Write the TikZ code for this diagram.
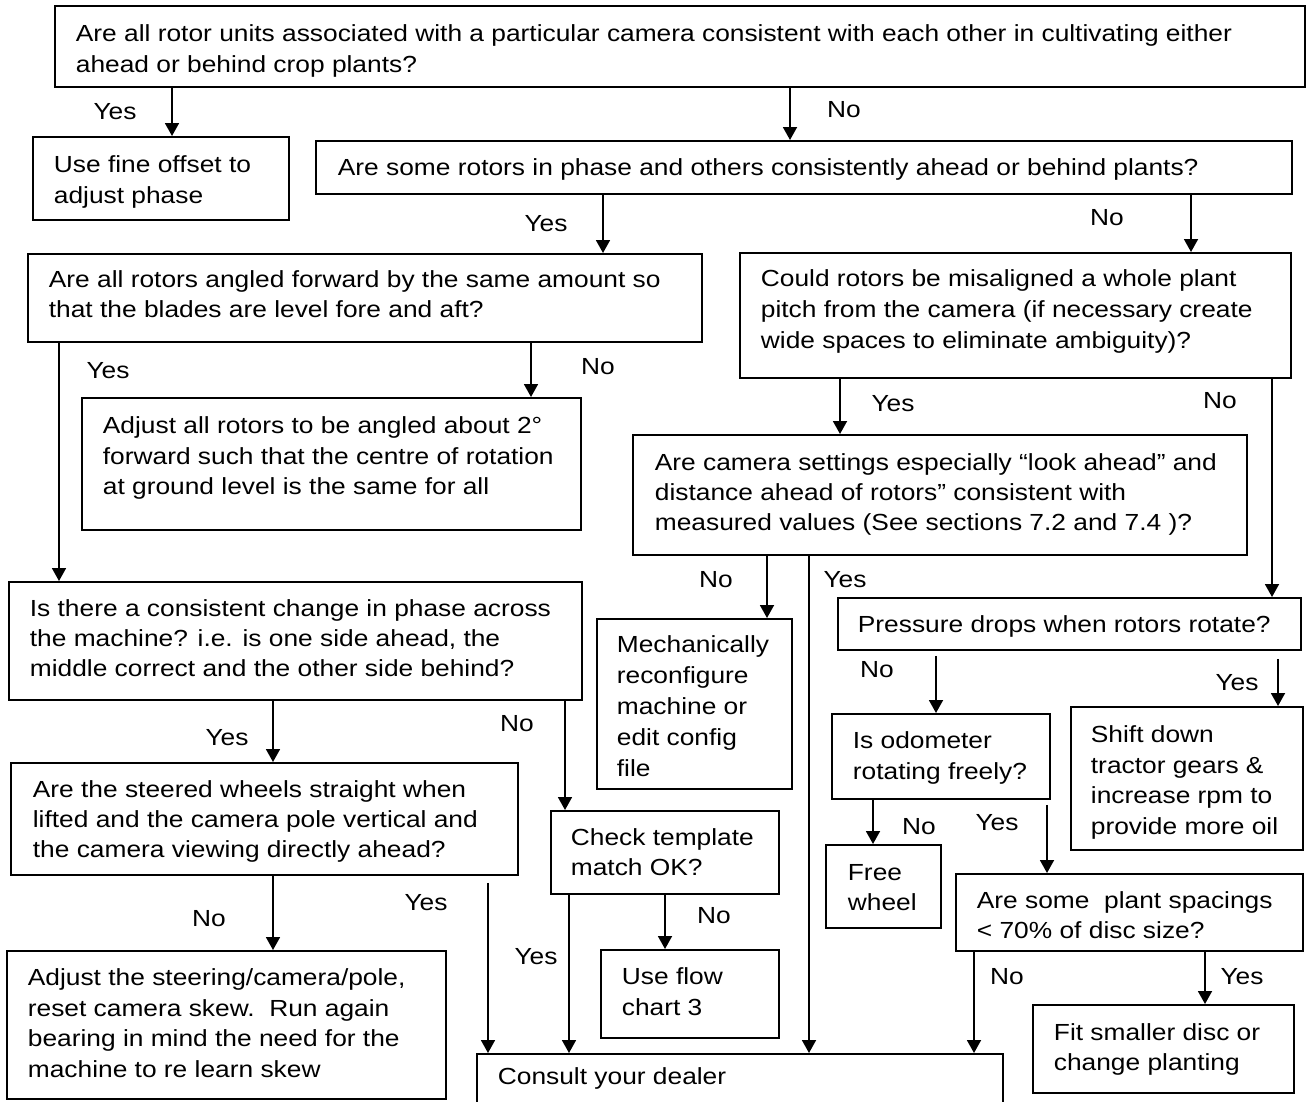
\documentclass[tikz,border=0pt]{standalone}
\usepackage{fontspec}
\setmainfont{Liberation Sans}[FakeStretch=1.13]
\usetikzlibrary{arrows.meta,calc}
% name, x1, y1, x2, y2, text x, first baseline y, line skip, text
\newcommand\flowbox[9]{%
  \node[boxst, anchor=north west] (#1) at (#2,-#3)
  {\parbox[c][\dimexpr #5pt-#3pt\relax][t]{\dimexpr #4pt-#2pt\relax}{%
    \raggedright\leftskip=\dimexpr #6pt-#2pt\relax
    \rightskip=0pt minus 300pt\relax
    \baselineskip=#8pt\relax
    \rule{0pt}{\dimexpr #7pt-#3pt\relax}#9}};}
\tikzset{
  boxst/.style={draw, line width=1.8pt, inner sep=0pt, fill=white,
    font=\fontsize{23.3}{30.5}\selectfont},
  arr/.style={line width=1.8pt, -{Triangle[length=13pt,width=14pt]}},
  lbl/.style={inner sep=0pt, font=\fontsize{23.3}{28}\selectfont}
}
\begin{document}
\begin{tikzpicture}[x=1pt,y=1pt]
\useasboundingbox (0,0) rectangle (1306,-1101);
\fill[white] (0,0) rectangle (1306,-1101);
\clip (0,0) rectangle (1306,-1101);

\flowbox{A}{54}{5}{1304}{86}{75}{41}{31}{Are all rotor units associated with a particular camera consistent with each other in cultivating either\\ ahead or behind crop plants?}
\flowbox{B}{32}{136}{288}{219}{53}{172}{31}{Use fine offset to\\ adjust phase}
\flowbox{C}{315}{140}{1291}{193}{337}{175}{30}{Are some rotors in phase and others consistently ahead or behind plants?}
\flowbox{D}{27}{253}{701}{341}{48}{287}{30}{Are all rotors angled forward by the same amount so\\ that the blades are level fore and aft?}
\flowbox{E}{739}{252}{1290}{377}{760}{286}{31}{Could rotors be misaligned a whole plant\\ pitch from the camera (if necessary create\\ wide spaces to eliminate ambiguity)?}
\flowbox{G}{81}{397}{580}{529}{102}{433}{30.5}{Adjust all rotors to be angled about 2°\\ forward such that the centre of rotation\\ at ground level is the same for all}
\flowbox{H}{632}{434}{1246}{554}{654}{470}{30}{Are camera settings especially “look ahead” and\\ distance ahead of rotors” consistent with\\ measured values (See sections 7.2 and 7.4 )?}
\flowbox{F}{8}{581}{581}{699}{29}{616}{30}{Is there a consistent change in phase across\\ the machine? i.e. is one side ahead, the\\ middle correct and the other side behind?}
\flowbox{I}{596}{618}{791}{788}{616}{652}{30.8}{Mechanically\\ reconfigure\\ machine or\\ edit config\\ file}
\flowbox{J}{837}{597}{1300}{649}{857}{632}{30}{Pressure drops when rotors rotate?}
\flowbox{K}{831}{713}{1049}{798}{852}{748}{31}{Is odometer\\ rotating freely?}
\flowbox{L}{1070}{706}{1302}{849}{1090}{742}{30.5}{Shift down\\ tractor gears \&\\ increase rpm to\\ provide more oil}
\flowbox{M}{10}{762}{517}{874}{32}{797}{30}{Are the steered wheels straight when\\ lifted and the camera pole vertical and\\ the camera viewing directly ahead?}
\flowbox{N}{550}{810}{778}{893}{570}{845}{30}{Check template\\ match OK?}
\flowbox{O}{825}{844}{940}{927}{847}{880}{30}{Free\\ wheel}
\flowbox{P}{955}{873}{1302}{950}{976}{908}{30}{Are some\ \ plant spacings\\ < 70\% of disc size?}
\flowbox{R}{600}{949}{778}{1037}{621}{984}{31}{Use flow\\ chart 3}
\flowbox{Q}{6}{950}{445}{1098}{27}{985}{30.5}{Adjust the steering/camera/pole,\\ reset camera skew.\ \ Run again\\ bearing in mind the need for the\\ machine to re learn skew}
\flowbox{S}{1032}{1004}{1293}{1092}{1053}{1040}{30}{Fit smaller disc or\\ change planting}
\flowbox{T}{476}{1053}{1002}{1130}{497}{1084}{30}{Consult your dealer}

% connectors
\draw[arr] (172,0 |- A.south) -- (172,0 |- B.north);
\draw[arr] (790,0 |- A.south) -- (790,0 |- C.north);
\draw[arr] (603,0 |- C.south) -- (603,0 |- D.north);
\draw[arr] (1191,0 |- C.south) -- (1191,0 |- E.north);
\draw[arr] (59,0 |- D.south) -- (59,0 |- F.north);
\draw[arr] (531,0 |- D.south) -- (531,0 |- G.north);
\draw[arr] (840,0 |- E.south) -- (840,0 |- H.north);
\draw[arr] (1272,0 |- E.south) -- (1272,0 |- J.north);
\draw[arr] (767,0 |- H.south) -- (767,0 |- I.north);
\draw[arr] (809,0 |- H.south) -- (809,0 |- T.north);
\draw[arr] (273,0 |- F.south) -- (273,0 |- M.north);
\draw[arr] (565,0 |- F.south) -- (565,0 |- N.north);
\draw[arr] ($(936,0 |- J.south)+(0,-5)$) -- (936,0 |- K.north);
\draw[arr] ($(1278,0 |- J.south)+(0,-8)$) -- (1278,0 |- L.north);
\draw[arr] (873,0 |- K.south) -- (873,0 |- O.north);
\draw[arr] ($(1047,0 |- K.south)+(0,-5)$) -- (1047,0 |- P.north);
\draw[arr] (273,0 |- M.south) -- (273,0 |- Q.north);
\draw[arr] ($(488,0 |- M.south)+(0,-7)$) -- (488,0 |- T.north);
\draw[arr] (569,0 |- N.south) -- (569,0 |- T.north);
\draw[arr] (665,0 |- N.south) -- (665,0 |- R.north);
\draw[arr] (974,0 |- P.south) -- (974,0 |- T.north);
\draw[arr] (1205,0 |- P.south) -- (1205,0 |- S.north);

% labels
\node[lbl] (y1) at (115,-112) {Yes};
\node[lbl] (n1) at (844,-110) {No};
\node[lbl] (y2) at (546,-224) {Yes};
\node[lbl] (n2) at (1107,-218) {No};
\node[lbl] (y3) at (108,-371) {Yes};
\node[lbl] (n3) at (598,-367) {No};
\node[lbl] (y4) at (893,-404) {Yes};
\node[lbl] (n4) at (1220,-401) {No};
\node[lbl] (n5) at (716,-580) {No};
\node[lbl] (y5) at (845,-580) {Yes};
\node[lbl] (y6) at (227,-738) {Yes};
\node[lbl] (n6) at (517,-724) {No};
\node[lbl] (n7) at (877,-670) {No};
\node[lbl] (y7) at (1237,-683) {Yes};
\node[lbl] (n8) at (919,-827) {No};
\node[lbl] (y8) at (997,-823) {Yes};
\node[lbl] (n9) at (209,-919) {No};
\node[lbl] (y9) at (426,-903) {Yes};
\node[lbl] (y10) at (536,-957) {Yes};
\node[lbl] (n10) at (714,-916) {No};
\node[lbl] (n11) at (1007,-977) {No};
\node[lbl] (y11) at (1242,-977) {Yes};
\end{tikzpicture}
\end{document}
